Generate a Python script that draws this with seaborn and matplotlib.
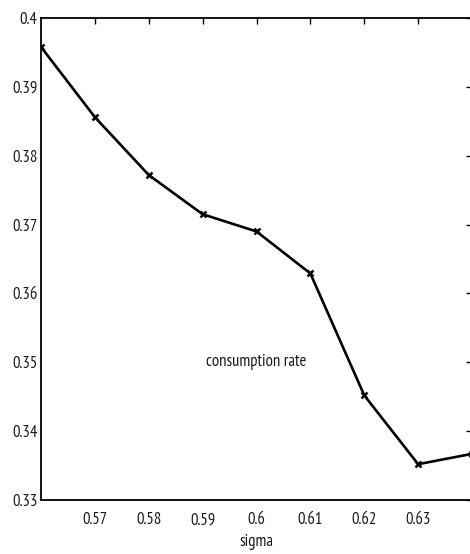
import matplotlib
matplotlib.use("Agg")
import matplotlib.pyplot as plt
import seaborn as sns
import pandas as pd

sigma = [0.56, 0.57, 0.58, 0.59, 0.60, 0.61, 0.62, 0.63, 0.64]
consumption_rate = [0.3958, 0.3856, 0.3772, 0.3715, 0.3690, 0.3629, 0.3452, 0.3352, 0.3367]
x_ticks = [0.57, 0.58, 0.59, 0.60, 0.61, 0.62, 0.63]
x_labels = ["0.57", "0.58", "0.59", "0.6", "0.61", "0.62", "0.63"]
y_ticks = [0.33, 0.34, 0.35, 0.36, 0.37, 0.38, 0.39, 0.40]
y_labels = ["0.33", "0.34", "0.35", "0.36", "0.37", "0.38", "0.39", "0.4"]

sns.set_style("white")
plt.rcParams["font.family"] = ["PT Sans Narrow", "Roboto Condensed", "DejaVu Sans"]

df = pd.DataFrame({"sigma": sigma, "rate": consumption_rate})

W, H = 470, 554
fig = plt.figure(figsize=(W / 100, H / 100), dpi=100)
left, right, top, bottom = 41, 472, 18, 500
ax = fig.add_axes([left / W, (H - bottom) / H, (right - left) / W, (bottom - top) / H])

sns.lineplot(data=df, x="sigma", y="rate", ax=ax, color="black", linewidth=1.9,
             marker="x", markersize=5, markeredgewidth=1.8, markeredgecolor="black")

ax.set_xlim(0.56, 0.64)
ax.set_ylim(0.33, 0.40)
ax.set_xticks(x_ticks)
ax.set_xticklabels(x_labels)
ax.set_yticks(y_ticks)
ax.set_yticklabels(y_labels)

for s in ax.spines.values():
    s.set_visible(True)
    s.set_color("black")
    s.set_linewidth(1.3)

ax.tick_params(axis="both", direction="in", length=4, width=1, color="black",
               top=True, right=True, labelsize=12, labelcolor="#1a1a1a")
ax.tick_params(axis="x", pad=9)
ax.tick_params(axis="y", pad=2.5)

ax.set_xlabel("sigma", fontsize=12, color="#1a1a1a", labelpad=4)
ax.set_ylabel("")

ax.text(0.60, 0.35, "consumption rate", ha="center", va="center",
        fontsize=12, color="#1a1a1a")

fig.savefig("out.png", dpi=100)
